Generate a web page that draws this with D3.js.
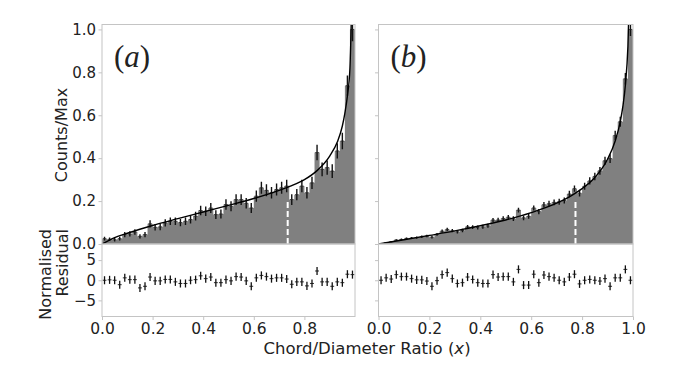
<!DOCTYPE html>
<html>
<head>
<meta charset="utf-8">
<script src="https://d3js.org/d3.v7.min.js"></script>
<style>
body { margin: 0; background: #fff; }
svg text { font-family: "DejaVu Sans", sans-serif; fill: #222; }
</style>
</head>
<body>
<div class="canvas"></div>
<script>
// 50 bins of width 0.02 on the chord/diameter ratio
var binEdges = d3.range(0, 1.0001, 0.02);

// panel (a) : counts/max, errors, normalised residuals
var countsA = [0.025,0.022,0.020,0.025,0.044,0.047,0.056,0.036,0.044,0.094,
               0.078,0.080,0.098,0.106,0.106,0.100,0.106,0.114,0.130,0.156,
               0.153,0.168,0.137,0.140,0.184,0.176,0.207,0.207,0.190,0.168,
               0.223,0.262,0.250,0.239,0.254,0.262,0.270,0.207,0.230,0.270,
               0.239,0.285,0.426,0.348,0.356,0.340,0.434,0.480,0.738,1.000];
var errA = [0.009,0.008,0.008,0.009,0.012,0.012,0.013,0.010,0.012,0.017,
            0.015,0.016,0.017,0.018,0.018,0.017,0.018,0.019,0.020,0.022,
            0.022,0.023,0.020,0.021,0.024,0.023,0.025,0.025,0.024,0.023,
            0.026,0.028,0.028,0.027,0.028,0.028,0.029,0.025,0.026,0.029,
            0.027,0.029,0.036,0.032,0.033,0.032,0.036,0.038,0.047,0.055];
var residA = [0,0.1,0,-1.1,0.6,0.15,0.15,-1.9,-1.5,0.8,
              -0.15,-0.15,0.2,0.2,-0.4,-0.8,-0.8,0,0.15,1.1,
              0.4,0.8,-0.6,-0.6,0.15,-0.15,0.9,0.8,-0.15,-1.5,
              0.6,1.2,0.9,0.4,0.6,0.6,0.3,-1.0,-0.4,-0.4,
              -1.4,-0.8,2.3,-0.4,-0.4,-1.5,-0.4,-0.6,1.5,1.4];
// fitted curve (a)
var curveA = [[0,0],[0.05,0.03],[0.1,0.05],[0.2,0.086],[0.3,0.118],[0.4,0.149],
              [0.5,0.18],[0.6,0.212],[0.7,0.25],[0.75,0.272],[0.8,0.3],[0.85,0.342],
              [0.9,0.41],[0.93,0.475],[0.95,0.55],[0.96,0.61],[0.97,0.69],
              [0.98,0.82],[0.99,1.3]];
var dashA = [0.734, 0.21];

// panel (b)
var countsB = [0.002,0.007,0.011,0.019,0.021,0.026,0.028,0.030,0.034,0.037,
               0.032,0.045,0.060,0.068,0.062,0.057,0.063,0.080,0.079,0.077,
               0.080,0.085,0.112,0.112,0.119,0.125,0.118,0.158,0.122,0.129,
               0.168,0.151,0.183,0.188,0.194,0.197,0.203,0.233,0.258,0.237,
               0.269,0.294,0.315,0.341,0.388,0.398,0.506,0.570,0.770,1.000];
var errB = [0.0014,0.0024,0.0031,0.0036,0.0041,0.0046,0.005,0.0053,0.0057,0.006,
            0.0063,0.0067,0.007,0.0072,0.0075,0.0078,0.0081,0.0084,0.0086,0.0089,
            0.0092,0.0094,0.0097,0.01,0.0103,0.0105,0.0108,0.0111,0.0114,0.0117,
            0.012,0.0123,0.0127,0.013,0.0134,0.0137,0.0141,0.0146,0.015,0.0155,
            0.0161,0.0167,0.0174,0.0182,0.0191,0.0203,0.0218,0.0234,0.0272,0.031];
var residB = [0,0.6,0.3,1.4,0.9,0.9,0.4,0.1,0.1,-0.2,
              -1.5,-0.1,1.4,1.9,0.4,-0.8,-0.6,0.8,0.2,-0.6,
              -0.8,-0.8,1.4,0.8,0.9,0.9,-0.4,2.7,-1.2,-1.2,
              1.5,-0.6,1.3,0.9,0.6,0,-0.4,0.8,1.5,-0.9,
              0,0.2,0,-0.2,0.4,-1.5,0.6,0.6,2.7,0];
var curveB = [[0,0],[0.1,0.0196],[0.2,0.04],[0.3,0.061],[0.4,0.085],[0.5,0.112],
              [0.6,0.146],[0.7,0.19],[0.75,0.22],[0.8,0.258],[0.85,0.31],[0.9,0.395],
              [0.93,0.48],[0.95,0.57],[0.96,0.64],[0.97,0.74],[0.98,0.92],[0.99,1.35]];
var dashB = [0.774, 0.21];

var yTicks = [0, 0.2, 0.4, 0.6, 0.8, 1.0];
var resTicks = [-5, 0, 5];
var xTicksA = [0, 0.2, 0.4, 0.6, 0.8];
var xTicksB = [0, 0.2, 0.4, 0.6, 0.8, 1.0];

var width = 675, height = 367;
var yTop = 24.5, yMid = 244, yBot = 316.5;
var spine = "#c4c4c4";

var svg = d3.select(".canvas").append("svg")
  .attr("width", width).attr("height", height);

var yHist = d3.scaleLinear().domain([0, 1.023]).range([yMid, yTop]);
var yRes = d3.scaleLinear().domain([-9, 9]).range([yBot, yMid]);

function panel(id, left, right, counts, errs, resid, curve, dash, xticks, showY, letter) {
  var x = d3.scaleLinear().domain([0, 1]).range([left, right]);
  var g = svg.append("g");

  svg.append("clipPath").attr("id", "clip" + id)
    .append("rect").attr("x", left).attr("y", yTop)
    .attr("width", right - left).attr("height", yMid - yTop);

  // histogram as one step area (no seams between bins)
  var steps = counts.map(function(d, i) { return [binEdges[i], d]; });
  steps.push([binEdges[counts.length], counts[counts.length - 1]]);
  var area = d3.area()
    .x(function(d) { return x(d[0]); })
    .y0(yHist(0))
    .y1(function(d) { return yHist(d[1]); })
    .curve(d3.curveStepAfter);
  g.append("path").datum(steps)
    .attr("d", area)
    .attr("fill", "#808080");

  // dashed marker
  g.append("line")
    .attr("x1", x(dash[0])).attr("x2", x(dash[0]))
    .attr("y1", yHist(0)).attr("y2", yHist(dash[1]))
    .attr("stroke", "#fff").attr("stroke-width", 2)
    .attr("stroke-dasharray", "6,3");

  // error bars
  var eb = g.append("g").attr("clip-path", "url(#clip" + id + ")");
  counts.forEach(function(d, i) {
    var cx = x((binEdges[i] + binEdges[i + 1]) / 2);
    eb.append("line")
      .attr("x1", cx).attr("x2", cx)
      .attr("y1", yHist(d - errs[i])).attr("y2", yHist(d + errs[i]))
      .attr("stroke", "#111").attr("stroke-width", 1.4);
    eb.append("line")
      .attr("x1", cx - 1.8).attr("x2", cx + 1.8)
      .attr("y1", yHist(d)).attr("y2", yHist(d))
      .attr("stroke", "#222").attr("stroke-width", 0.8);
  });

  // fitted curve
  var line = d3.line()
    .x(function(d) { return x(d[0]); })
    .y(function(d) { return yHist(d[1]); })
    .curve(d3.curveMonotoneX);
  g.append("path").datum(curve)
    .attr("clip-path", "url(#clip" + id + ")")
    .attr("d", line)
    .attr("fill", "none").attr("stroke", "#000").attr("stroke-width", 1.4);

  // residuals
  resid.forEach(function(r, i) {
    var cx = x((binEdges[i] + binEdges[i + 1]) / 2);
    g.append("line")
      .attr("x1", cx).attr("x2", cx)
      .attr("y1", yRes(r - 1)).attr("y2", yRes(r + 1))
      .attr("stroke", "#111").attr("stroke-width", 1.3);
    g.append("line")
      .attr("x1", x(binEdges[i]) + 0.6).attr("x2", x(binEdges[i + 1]) - 0.6)
      .attr("y1", yRes(r)).attr("y2", yRes(r))
      .attr("stroke", "#111").attr("stroke-width", 0.9);
  });

  // frames
  [[yTop, yMid], [yMid, yBot]].forEach(function(p) {
    g.append("rect")
      .attr("x", left).attr("y", p[0])
      .attr("width", right - left).attr("height", p[1] - p[0])
      .attr("fill", "none").attr("stroke", spine).attr("stroke-width", 1);
  });

  // axes
  var ax = g.append("g")
    .attr("transform", "translate(0," + yBot + ")")
    .call(d3.axisBottom(x).tickValues(xticks).tickFormat(d3.format(".1f"))
      .tickSize(3.5).tickPadding(3));
  var ayH = g.append("g")
    .attr("transform", "translate(" + left + ",0)")
    .call(d3.axisLeft(yHist).tickValues(yTicks).tickFormat(d3.format(".1f"))
      .tickSize(3.5).tickPadding(2.5));
  var ayR = g.append("g")
    .attr("transform", "translate(" + left + ",0)")
    .call(d3.axisLeft(yRes).tickValues(resTicks)
      .tickFormat(function(d) { return d < 0 ? "\u2212" + Math.abs(d) : d; })
      .tickSize(3.5).tickPadding(2.5));
  [ax, ayH, ayR].forEach(function(a) {
    a.select(".domain").remove();
    a.selectAll(".tick line").attr("stroke", spine);
    a.selectAll("text").attr("font-size", 15.5).attr("fill", "#222")
      .style("font-family", "'DejaVu Sans', sans-serif");
  });
  ayH.selectAll("text").attr("font-size", 15);
  ayR.selectAll("text").attr("font-size", 15);
  if (!showY) {
    ayH.selectAll("text").remove();
    ayR.selectAll("text").remove();
  }

  // panel letter
  var t = g.append("text")
    .attr("x", left + 12).attr("y", 67)
    .attr("font-size", 31)
    .style("font-family", "'Liberation Serif', serif");
  t.append("tspan").text("(");
  t.append("tspan").attr("font-style", "italic").text(letter);
  t.append("tspan").text(")");
}

panel("a", 102, 355, countsA, errA, residA, curveA, dashA, xTicksA, true, "a");
panel("b", 378.5, 633, countsB, errB, residB, curveB, dashB, xTicksB, false, "b");

// axis labels
svg.append("text")
  .attr("transform", "translate(67,135) rotate(-90)")
  .attr("text-anchor", "middle")
  .attr("font-size", 16)
  .text("Counts/Max");

var rl = svg.append("text")
  .attr("transform", "translate(51,229) rotate(-90)")
  .attr("text-anchor", "end")
  .attr("font-size", 16);
rl.append("tspan").attr("x", 0).attr("dy", 0).text("Normalised");
rl.append("tspan").attr("x", 0).attr("dy", 17).text("Residual");

var xl = svg.append("text")
  .attr("x", 367).attr("y", 354)
  .attr("text-anchor", "middle")
  .attr("font-size", 16.5);
xl.append("tspan").text("Chord/Diameter Ratio (");
xl.append("tspan").attr("font-style", "italic").text("x");
xl.append("tspan").text(")");
</script>
</body>
</html>
